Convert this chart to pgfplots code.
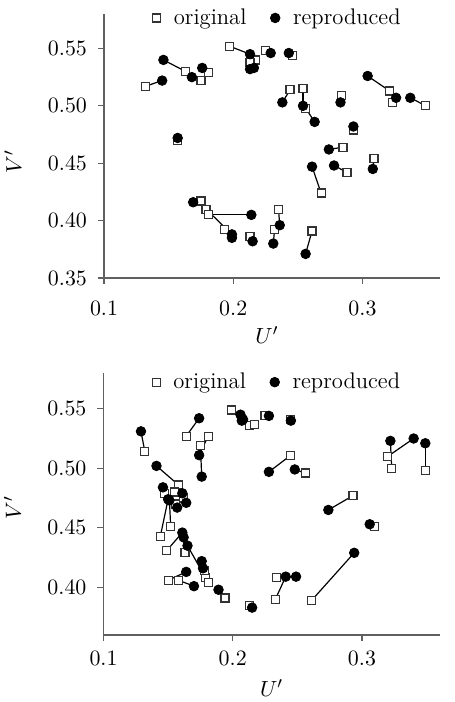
\documentclass[border=0pt]{standalone}
\usepackage{pgfplots}
\usepackage{pgfplotstable}
\pgfplotsset{compat=1.18}

% columns: original (uo,vo) and reproduced (ur,vr)
\pgfplotstableread{
uo    vo    ur    vr
0.132 0.517 0.145 0.522
0.163 0.530 0.146 0.540
0.175 0.522 0.168 0.525
0.181 0.529 0.176 0.533
0.197 0.552 0.213 0.545
0.217 0.540 0.216 0.533
0.213 0.538 0.213 0.532
0.225 0.548 0.229 0.546
0.246 0.544 0.243 0.546
0.244 0.514 0.238 0.503
0.254 0.515 0.254 0.500
0.256 0.498 0.263 0.486
0.284 0.509 0.283 0.503
0.293 0.479 0.293 0.482
0.285 0.464 0.274 0.462
0.157 0.470 0.157 0.472
0.321 0.513 0.304 0.526
0.323 0.503 0.326 0.507
0.349 0.500 0.337 0.507
0.288 0.442 0.278 0.448
0.309 0.454 0.308 0.445
0.268 0.424 0.261 0.447
0.261 0.391 0.256 0.371
0.175 0.417 0.169 0.416
0.179 0.410 0.199 0.388
0.181 0.405 0.214 0.405
0.193 0.392 0.199 0.385
0.213 0.386 0.215 0.382
0.235 0.410 0.236 0.396
0.232 0.392 0.231 0.380
}\toptable

\pgfplotstableread{
uo    vo    ur    vr
0.199 0.549 0.206 0.545
0.213 0.536 0.207 0.540
0.217 0.537 0.208 0.541
0.225 0.544 0.228 0.544
0.245 0.541 0.245 0.540
0.132 0.514 0.129 0.531
0.164 0.527 0.174 0.542
0.181 0.527 0.174 0.511
0.175 0.519 0.176 0.493
0.245 0.511 0.228 0.497
0.256 0.496 0.248 0.499
0.158 0.486 0.141 0.502
0.293 0.477 0.274 0.465
0.320 0.510 0.340 0.525
0.323 0.500 0.322 0.523
0.349 0.498 0.349 0.521
0.310 0.451 0.306 0.453
0.261 0.389 0.294 0.429
0.147 0.479 0.146 0.484
0.144 0.443 0.150 0.474
0.152 0.451 0.151 0.473
0.155 0.480 0.161 0.479
0.162 0.475 0.164 0.471
0.156 0.470 0.157 0.467
0.149 0.431 0.161 0.446
0.163 0.429 0.162 0.442
0.179 0.408 0.165 0.435
0.181 0.404 0.176 0.422
0.178 0.414 0.177 0.416
0.150 0.406 0.164 0.413
0.158 0.406 0.170 0.401
0.194 0.391 0.189 0.398
0.213 0.385 0.215 0.383
0.234 0.408 0.249 0.409
0.233 0.390 0.241 0.409
}\bottable

\pgfplotsset{
  uvplot/.style={
    scale only axis, width=168pt,
    axis x line*=bottom, axis y line*=left,
    axis line style={-, draw=gray!75!black, line width=0.8pt},
    tick style={draw=gray!75!black, line width=0.6pt},
    tick align=outside, major tick length=3pt,
    xmin=0.1, xmax=0.36, xtick={0.1,0.2,0.3},
    font=\fontsize{11.3}{13}\selectfont,
    x tick label style={/pgf/number format/.cd, fixed, precision=1},
    y tick label style={xshift=-2pt,
      /pgf/number format/.cd, fixed, fixed zerofill, precision=2},
    xlabel={$U'$}, ylabel={$V'$},
    legend columns=2,
    legend style={draw=none, fill=none, anchor=center,
      /tikz/every odd column/.append style={column sep=4.5pt},
      /tikz/every even column/.append style={column sep=10pt}},
    legend cell align=left,
  },
  sq/.style={only marks, mark=square*, mark size=2pt,
    mark options={fill=white, draw=black!80, line width=0.6pt}},
  dot/.style={only marks, mark=*, mark size=2.4pt,
    mark options={fill=black, draw=black}},
  link/.style={black, line width=0.6pt, forget plot,
    quiver={u=\thisrow{ur}-\thisrow{uo}, v=\thisrow{vr}-\thisrow{vo}}},
}

\begin{document}
\begin{tikzpicture}
\useasboundingbox (0,0) rectangle (227.5pt,351pt);

\begin{axis}[uvplot, at={(52pt,212pt)}, anchor=south west, height=132pt,
  ymin=0.35, ymax=0.58, ytick={0.35,0.40,...,0.56},
  x tick label style={/tikz/yshift=-5pt},
  ylabel style={at={(axis description cs:-0.271,0.44)}, anchor=center},
  xlabel style={at={(axis description cs:0.485,-0.216)}, anchor=center},
  legend style={at={(0.52,0.985)}},
]
  \addplot[link] table[x=uo, y=vo] {\toptable};
  \addplot[sq] table[x=uo, y=vo] {\toptable};
  \addlegendentry{original}
  \addplot[dot] table[x=ur, y=vr] {\toptable};
  \addlegendentry{reproduced}
\end{axis}

\begin{axis}[uvplot, at={(51.75pt,33.5pt)}, anchor=south west, height=131pt,
  ymin=0.36, ymax=0.58, ytick={0.40,0.45,...,0.56},
  x tick label style={/tikz/yshift=-1.5pt},
  ylabel style={at={(axis description cs:-0.271,0.485)}, anchor=center},
  xlabel style={at={(axis description cs:0.50,-0.202)}, anchor=center},
  legend style={at={(0.52,0.965)}},
]
  \addplot[link] table[x=uo, y=vo] {\bottable};
  \addplot[sq] table[x=uo, y=vo] {\bottable};
  \addlegendentry{original}
  \addplot[dot] table[x=ur, y=vr] {\bottable};
  \addlegendentry{reproduced}
\end{axis}
\end{tikzpicture}
\end{document}
